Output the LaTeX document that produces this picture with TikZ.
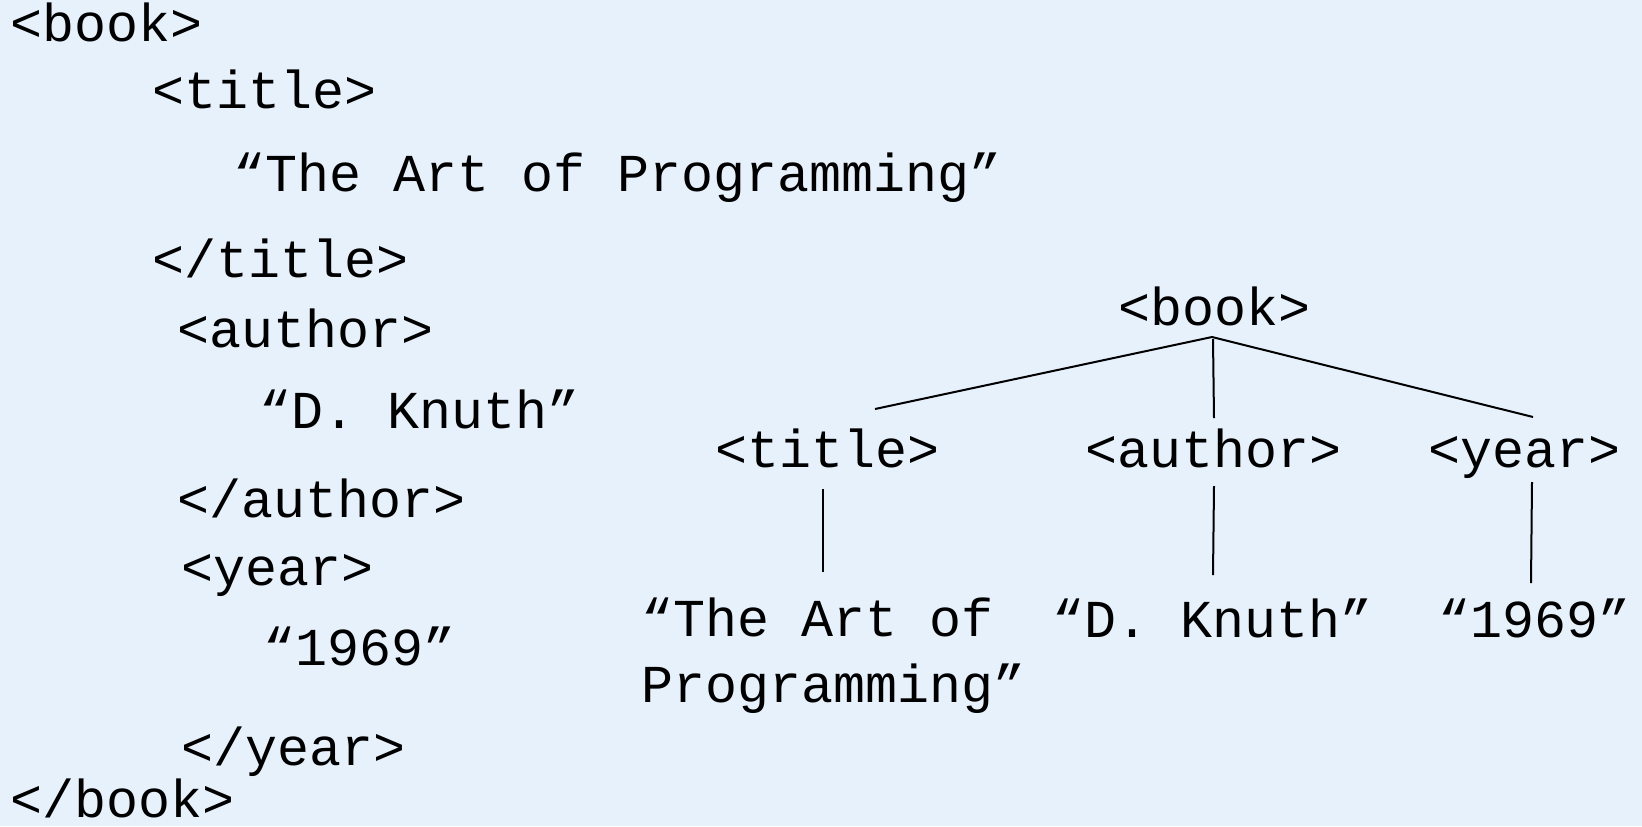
\documentclass[tikz,border=0pt]{standalone}
\usepackage{fontspec}
\setmonofont{Liberation Mono}
\usetikzlibrary{calc}

\definecolor{pagebg}{RGB}{231,241,252}

\tikzset{
  tag/.style={inner sep=0pt, font=\ttfamily\fontsize{40}{49}\selectfont},
  listing/.style={tag, anchor=base west},
  leaf/.style={tag, anchor=base},
  edge/.style={line width=1.5pt, black},
}

\begin{document}
\begin{tikzpicture}[x=0.75pt,y=0.75pt,yscale=-1,xscale=1]

\fill [pagebg] (0, 0) rectangle (1642, 826);

%%%%%%%%%%%%%%%%%%%%%%%%%%%%%%%%%%%%%%%%%%%%%%%%%%%%%%%%%%%%%%%%%%%%%%%%

\draw (10, 41) node [listing] (src-book) {<book>};
\draw (152, 108) node [listing] (src-title) {<title>};
\draw (233, 191) node [listing] (src-title-text) {“The Art of Programming”};
\draw (152, 277) node [listing] (src-title-end) {</title>};
\draw (177, 347) node [listing] (src-author) {<author>};
\draw (259, 428) node [listing] (src-author-text) {“D. Knuth”};
\draw (177, 517) node [listing] (src-author-end) {</author>};
\draw (181, 585) node [listing] (src-year) {<year>};
\draw (263, 665) node [listing] (src-year-text) {“1969”};
\draw (181, 765) node [listing] (src-year-end) {</year>};
\draw (10, 817) node [listing] (src-book-end) {</book>};

%%%%%%%%%%%%%%%%%%%%%%%%%%%%%%%%%%%%%%%%%%%%%%%%%%%%%%%%%%%%%%%%%%%%%%%%

\draw (1215, 325) node [leaf] (book) {<book>};

\draw (828, 467) node [leaf] (title) {<title>};
\draw (1214, 467) node [leaf] (author) {<author>};
\draw (1524, 467) node [leaf] (year) {<year>};

% base of a two-line node sits on its last line
\draw (641, 702) node [listing, align=left] (title-text) {“The Art of\\Programming”};
\draw (1213, 637) node [leaf] (author-text) {“D. Knuth”};
\draw (1534, 637) node [leaf] (year-text) {“1969”};

\draw [edge] ($(book.base)+(-3, 12)$) -- ($(title.base)+(47, -58)$);
\draw [edge] ($(book.base)+(-2, 14)$) -- ($(author.base)+(0, -49)$);
\draw [edge] ($(book.base)+(-3, 12)$) -- ($(year.base)+(9, -50)$);

\draw [edge] ($(title.base)+(-5, 22)$) -- ($(title-text.base west)+(182, -130)$);
\draw [edge] ($(author.base)+(0, 19)$) -- ($(author-text.base)+(0, -62)$);
\draw [edge] ($(year.base)+(8, 15)$) -- ($(year-text.base)+(-3, -54)$);

%%%%%%%%%%%%%%%%%%%%%%%%%%%%%%%%%%%%%%%%%%%%%%%%%%%%%%%%%%%%%%%%%%%%%%%%

\end{tikzpicture}
\end{document}
